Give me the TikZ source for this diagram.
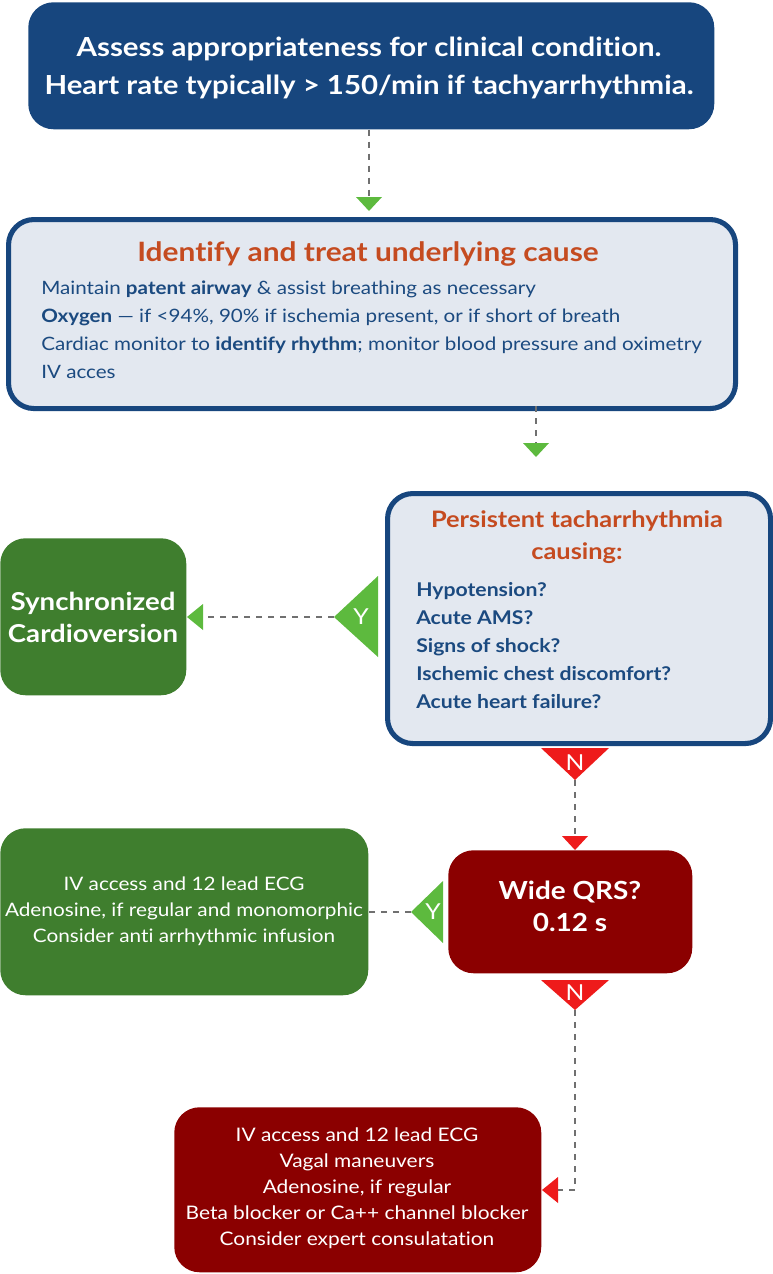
\documentclass[tikz,border=0pt]{standalone}
\usepackage{fontspec}
\setmainfont{Lato}[FakeStretch=1.12, Ligatures={NoCommon}]
\usetikzlibrary{calc}
\definecolor{dblue}{HTML}{17467E}
\definecolor{lfill}{HTML}{E3E8F0}
\definecolor{orng}{HTML}{C54B20}
\definecolor{tblue}{HTML}{1B4A80}
\definecolor{tgreen}{HTML}{5DBA3E}
\definecolor{bgreen}{HTML}{3F7E2E}
\definecolor{tred}{HTML}{EE1B1B}
\definecolor{bred}{HTML}{8B0000}
\definecolor{dgray}{HTML}{707070}
\tikzset{
  box/.style={rectangle, rounded corners=19pt, inner sep=0pt, anchor=north west},
  bluebox/.style={box, fill=dblue, text=white},
  lightbox/.style={box, fill=lfill, draw=dblue, line width=3.8pt},
  greenbox/.style={box, fill=bgreen, text=white},
  redbox/.style={box, fill=bred, text=white},
  conn/.style={draw=dgray, line width=1.5pt, dash pattern=on 4.5pt off 4.5pt},
  yn/.style={text=white, font=\fontsize{16.5}{18}\selectfont, inner sep=0pt},
  bodytxt/.style={text=tblue, font=\fontsize{13.8}{21}\selectfont, anchor=base west, inner sep=0pt},
  itemtxt/.style={text=tblue, font=\fontsize{14.2}{21}\selectfont\bfseries, anchor=base west, inner sep=0pt},
}
\begin{document}
\begin{tikzpicture}[x=0.75pt,y=-0.75pt]
\useasboundingbox (0,0) rectangle (772,1274);
% top box
\node[bluebox, minimum width=686*0.75pt, minimum height=127*0.75pt] (top) at (28,2) {};
\node[text=white, font=\fontsize{19.7}{28.5}\selectfont\bfseries, align=center] (toptxt) at (369,68) {Assess appropriateness for clinical condition.\\Heart rate typically > 150/min if tachyarrhythmia.};
% box 2
\node[lightbox, minimum width=727*0.75pt, minimum height=189*0.75pt] (idt) at (6,217) {};
\node[text=orng, font=\fontsize{20}{23}\selectfont\bfseries, anchor=base, inner sep=0pt] (idttitle) at (368,261) {Identify and treat underlying cause};
\node[bodytxt] (l1) at (41,294) {Maintain \textbf{patent airway} \& assist breathing as necessary};
\node[bodytxt] (l2) at (41,322) {\textbf{Oxygen} — if <94\%, 90\% if ischemia present, or if short of breath};
\node[bodytxt] (l3) at (41,350) {Cardiac monitor to \textbf{identify rhythm}; monitor blood pressure and oximetry};
\node[bodytxt] (l4) at (41,378) {IV acces};
% box 3
\node[lightbox, minimum width=383*0.75pt, minimum height=250*0.75pt] (pers) at (385,491) {};
\node[text=orng, font=\fontsize{17}{23.5}\selectfont\bfseries, align=center] (perstitle) at (577,537) {Persistent tacharrhythmia\\causing:};
\node[itemtxt] (i1) at (416,596) {Hypotension?};
\node[itemtxt] (i2) at (416,624) {Acute AMS?};
\node[itemtxt] (i3) at (416,652) {Signs of shock?};
\node[itemtxt] (i4) at (416,680) {Ischemic chest discomfort?};
\node[itemtxt] (i5) at (416,708) {Acute heart failure?};
% synchronized cardioversion
\node[greenbox, minimum width=186*0.75pt, minimum height=157*0.75pt] (sync) at (0,538) {};
\node[text=white, font=\fontsize{18.5}{24}\selectfont\bfseries, align=center] (synctxt) at (93,617) {Synchronized\\Cardioversion};
% wide QRS
\node[redbox, minimum width=244*0.75pt, minimum height=123*0.75pt] (qrs) at (448,850) {};
\node[text=white, font=\fontsize{18.7}{24}\selectfont\bfseries, align=center] (qrstxt) at (570,906) {Wide QRS?\\0.12 s};
% green box 2
\node[greenbox, minimum width=368*0.75pt, minimum height=167*0.75pt] (adeno) at (0,828) {};
\node[text=white, font=\fontsize{13.9}{19.5}\selectfont, align=center] (adenotxt) at (184,911) {IV access and 12 lead ECG\\Adenosine, if regular and monomorphic\\Consider anti arrhythmic infusion};
% red box bottom
\node[redbox, minimum width=367*0.75pt, minimum height=165*0.75pt] (vagal) at (174,1107) {};
\node[text=white, font=\fontsize{14}{19.5}\selectfont, align=center] (vagaltxt) at (357,1188) {IV access and 12 lead ECG\\Vagal maneuvers\\Adenosine, if regular\\Beta blocker or Ca++ channel blocker\\Consider expert consulatation};
% connector coordinates
\coordinate (a1s) at (369,129);
\coordinate (a1e) at (369,199);
\coordinate (a2s) at (536,406);
\coordinate (a2e) at (536,445);
\coordinate (y1tip) at (334,617);
\coordinate (a3e) at (203,617);
\coordinate (n1tip) at (575,780);
\coordinate (a4e) at (575,836);
\coordinate (y2tip) at (411,912);
\coordinate (n2tip) at (575,1010);
\coordinate (bend) at (575,1190);
\coordinate (a5e) at (558,1190);
% dashed connectors
\draw[conn] (top.south -| a1s) -- (a1e);
\draw[conn] (a2s) -- (a2e);
\draw[conn] (y1tip) -- (a3e);
\draw[conn] (n1tip) -- (a4e);
\draw[conn] (y2tip) -- (adeno.east |- y2tip);
\draw[conn] (n2tip) -- (bend) -- (a5e);
% arrowheads
\fill[tgreen] (356,197) -- (382,197) -- (369,211) -- cycle;
\fill[tgreen] (523,443) -- (549,443) -- (536,457) -- cycle;
\fill[tgreen] (203,604) -- (203,630) -- (187,617) -- cycle;
\fill[tred] (562,836) -- (588,836) -- (575,850) -- cycle;
\fill[tred] (558,1177) -- (558,1203) -- (542,1190) -- cycle;
% Y / N triangles
\fill[tgreen] (378,576) -- (378,657) -- (y1tip) -- cycle;
\node[yn] (y1) at (361,617) {Y};
\fill[tgreen] (443,881) -- (443,943) -- (y2tip) -- cycle;
\node[yn] (y2) at (433,912) {Y};
\fill[tred] (541,748) -- (609,748) -- (n1tip) -- cycle;
\node[yn] (n1) at (575,763) {N};
\fill[tred] (541,980) -- (609,980) -- (n2tip) -- cycle;
\node[yn] (n2) at (575,993) {N};
\end{tikzpicture}
\end{document}
